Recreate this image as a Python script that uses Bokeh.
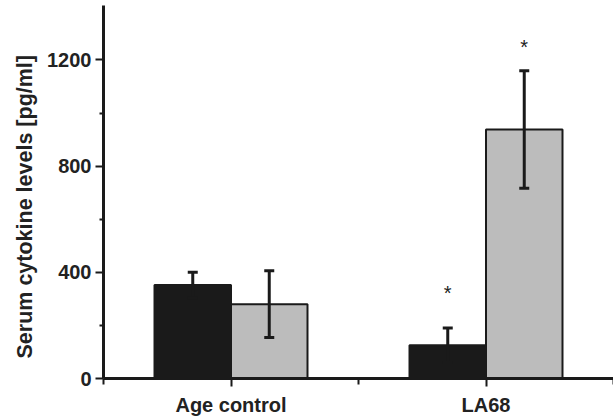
from bokeh.plotting import figure
from bokeh.models import Range1d, FixedTicker, Whisker, ColumnDataSource, TeeHead, Title
from bokeh.embed import file_html
from bokeh.resources import INLINE
from bokeh.core.properties import value

categories = ["Age control", "LA68"]
cat_pos = [1, 2]
black_means = [352, 125]
black_err = [48, 65]
gray_means = [280, 938]
gray_err = [126, 221]
sig_labels = ["", "*"]          # significance marks for black series
sig_labels_gray = ["", "*"]     # significance marks for gray series
sig_y_black = [0, 337]
sig_y_gray = [0, 1264]
y_ticks = [0, 400, 800, 1200]
y_minor = [200, 600, 1000]
y_label = "Serum cytokine levels [pg/ml]"

BLACK = "#1a1a1a"
GRAY = "#bcbcbc"
TXT = "#222222"
FONT = "Liberation Sans"

p = figure(width=613, height=418, output_backend="svg", toolbar_location=None,
           x_range=Range1d(0.5, 2.5), y_range=Range1d(0, 1405))
p.min_border_left = 103
p.min_border_right = 0
p.min_border_top = 5
p.min_border_bottom = 38
p.outline_line_color = None
p.xgrid.visible = False
p.ygrid.visible = False
p.background_fill_color = "white"
p.border_fill_color = "white"

off = 0.15
bw = 0.3
bx = [c - off for c in cat_pos]
gx = [c + off for c in cat_pos]

p.vbar(x=bx, top=black_means, width=bw, fill_color=BLACK, line_color=BLACK, line_width=2)
p.vbar(x=gx, top=gray_means, width=bw, fill_color=GRAY, line_color=BLACK, line_width=2)

src_b = ColumnDataSource(dict(x=bx, lo=[m - e for m, e in zip(black_means, black_err)],
                              hi=[m + e for m, e in zip(black_means, black_err)]))
src_g = ColumnDataSource(dict(x=gx, lo=[m - e for m, e in zip(gray_means, gray_err)],
                              hi=[m + e for m, e in zip(gray_means, gray_err)]))
for src in (src_b, src_g):
    w = Whisker(source=src, base="x", lower="lo", upper="hi", dimension="height",
                line_color=BLACK, line_width=3, level="overlay",
                upper_head=TeeHead(size=10, line_width=3, line_color=BLACK),
                lower_head=TeeHead(size=10, line_width=3, line_color=BLACK))
    p.add_layout(w)

# significance asterisks
sx, sy, st = [], [], []
for x, y, t in zip(bx, sig_y_black, sig_labels):
    if t:
        sx.append(x); sy.append(y); st.append(t)
for x, y, t in zip(gx, sig_y_gray, sig_labels_gray):
    if t:
        sx.append(x); sy.append(y); st.append(t)
p.text(x=sx, y=sy, text=st, text_align="center", text_baseline="middle",
       text_font=value(FONT), text_font_size="20px", text_color=TXT, y_offset=4)

# axes
for ax in (p.xaxis[0], p.yaxis[0]):
    ax.axis_line_color = BLACK
    ax.axis_line_width = 3
    ax.major_tick_line_color = BLACK
    ax.major_tick_line_width = 2
    ax.minor_tick_line_color = BLACK
    ax.minor_tick_line_width = 2
    ax.major_tick_in = 0
    ax.minor_tick_in = 0
    ax.major_label_text_font = FONT
    ax.major_label_text_font_style = "bold"
    ax.major_label_text_color = TXT
    ax.major_label_text_font_size = "20px"

p.yaxis.ticker = FixedTicker(ticks=y_ticks, minor_ticks=y_minor)
p.yaxis.major_tick_out = 8
p.yaxis.minor_tick_out = 4
p.yaxis.major_label_standoff = 4

p.xaxis.ticker = FixedTicker(ticks=cat_pos, minor_ticks=[0.5, 1.5, 2.5])
p.xaxis.major_label_overrides = {c: n for c, n in zip(cat_pos, categories)}
p.xaxis.major_tick_out = 8
p.xaxis.minor_tick_out = 6
p.xaxis.major_label_standoff = 7

ytitle = Title(text=y_label, align="left", offset=20, standoff=15,
               text_font=FONT, text_font_style="bold", text_font_size="21.5px",
               text_color=TXT)
p.add_layout(ytitle, "left")

open("out.html", "w").write(file_html(p, INLINE))
